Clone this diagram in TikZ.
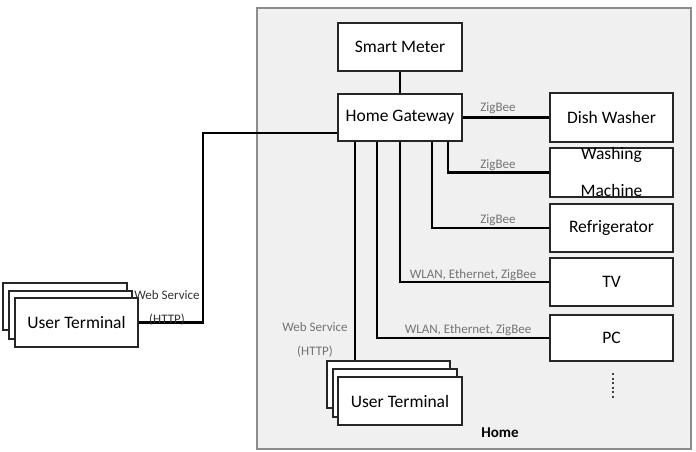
\documentclass[tikz,border=0pt]{standalone}
\usepackage{fontspec}
\setmainfont{Carlito}
\begin{document}
\begin{tikzpicture}[x=1pt,y=-1pt,
  box/.style={draw=black!85, line width=1.8pt, fill=white, inner sep=0pt, font=\fontsize{17.5}{20}\selectfont},
  conn/.style={draw=black, line width=2.2pt},
  lbl/.style={font=\fontsize{13}{15}\selectfont, text=black!55, inner sep=0pt}]
\useasboundingbox (0,0) rectangle (696,451);
% home area
\node[draw=black!45, line width=1.2pt, fill=black!6, minimum width=434pt, minimum height=441pt, inner sep=0pt] (home) at (474,228.5) {};
\node[font=\fontsize{15}{17}\selectfont\bfseries] (homelbl) at (500,433) {Home};
% devices
\node[box, minimum width=124pt, minimum height=48pt] (sm) at (400,47) {Smart Meter};
\node[box, minimum width=124pt, minimum height=47pt] (gw) at (400,117.5) {Home Gateway};
\node[box, minimum width=123pt, minimum height=49pt] (dw) at (611.5,117.5) {Dish Washer};
\node[box, minimum width=123pt, minimum height=49pt] (wm) at (611.5,172.5) {\smash{\raisebox{-6pt}{\begin{tabular}{@{}c@{}}Washing\\[17pt]Machine\end{tabular}}}};
\node[box, minimum width=123pt, minimum height=48pt] (rf) at (611.5,228) {Refrigerator};
\node[box, minimum width=123pt, minimum height=48pt] (tv) at (611.5,282) {TV};
\node[box, minimum width=123pt, minimum height=46pt] (pc) at (611.5,338) {PC};
\draw[black!75, line width=2.2pt, dash pattern=on 2pt off 2.5pt] (613,373) -- (613,399);
% inner user terminals
\node[box, minimum width=123pt, minimum height=47pt] (iut1) at (388.5,384.5) {};
\node[box, minimum width=124pt, minimum height=48pt] (iut2) at (395,393) {};
\node[box, minimum width=124pt, minimum height=48pt] (iut3) at (400,401) {User Terminal};
% left user terminals
\node[box, minimum width=124pt, minimum height=47pt] (lut1) at (65,306.5) {};
\node[box, minimum width=123pt, minimum height=48pt] (lut2) at (70.5,315) {};
\node[box, minimum width=123pt, minimum height=49pt] (lut3) at (76.5,322.5) {User Terminal};
% connectors
\draw[conn] (sm) -- (gw);
\draw[conn] (gw.east) -- (dw.west);
\draw[conn] ([xshift=111pt]gw.south west) |- (wm.west);
\draw[conn] ([xshift=95pt]gw.south west) |- (rf.west);
\draw[conn] ([xshift=63pt]gw.south west) |- (tv.west);
\draw[conn] ([xshift=40pt]gw.south west) |- (pc.west);
\draw[conn] ([xshift=18pt]gw.south west) -- ([xshift=18pt]gw.south west |- iut1.north);
\coordinate (jn) at (203,133);
\draw[conn] ([yshift=-15.5pt]gw.west) -- (jn) |- (lut3.east);
% labels
\node[lbl] (l1) at (498,108) {ZigBee};
\node[lbl] (l2) at (498,165) {ZigBee};
\node[lbl] (l3) at (498,220) {ZigBee};
\node[lbl] (l4) at (473,275) {WLAN, Ethernet, ZigBee};
\node[lbl] (l5) at (468,330) {WLAN, Ethernet, ZigBee};
\node[lbl] (l6) at (315,327) {Web Service};
\node[lbl] (l7) at (315,352) {(HTTP)};
\node[lbl, text=black!80] (l8) at (167,295) {Web Service};
\node[lbl, text=black!80] (l9) at (167,320) {(HTTP)};
\end{tikzpicture}
\end{document}
